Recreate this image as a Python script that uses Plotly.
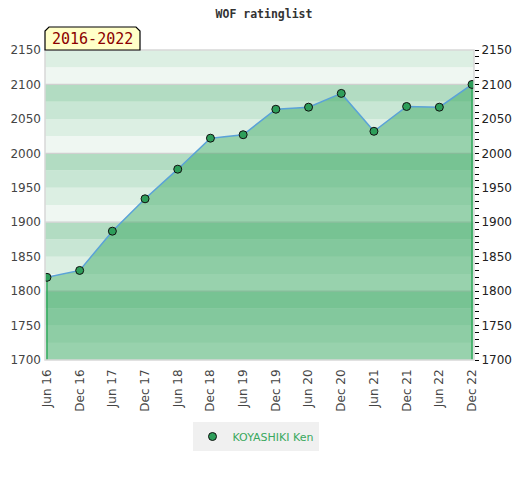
import plotly.graph_objects as go

# ---- data ----
periods = ["Jun 16", "Dec 16", "Jun 17", "Dec 17", "Jun 18", "Dec 18", "Jun 19",
           "Dec 19", "Jun 20", "Dec 20", "Jun 21", "Dec 21", "Jun 22", "Dec 22"]
rating = [1820, 1830, 1887, 1934, 1977, 2022, 2027,
          2064, 2067, 2087, 2032, 2068, 2067, 2100]
player = "KOYASHIKI Ken"
title = "WOF ratinglist"
period_label = "2016-2022"
y_min, y_max = 1700, 2150
yticks = [1700, 1750, 1800, 1850, 1900, 1950, 2000, 2050, 2100, 2150]

x = list(range(len(periods)))

fig = go.Figure()

# area fill
fig.add_trace(go.Scatter(
    x=x, y=rating, mode="lines", fill="tozeroy",
    fillcolor="rgba(50,166,92,0.46)", line=dict(width=0, color="rgba(0,0,0,0)"),
    hoverinfo="skip", showlegend=False))
# edge lines of area
fig.add_trace(go.Scatter(x=[x[0], x[0]], y=[rating[0], y_min], mode="lines",
                         line=dict(color="#2ea85a", width=1.5), showlegend=False, hoverinfo="skip"))
fig.add_trace(go.Scatter(x=[x[-1], x[-1]], y=[rating[-1], y_min], mode="lines",
                         line=dict(color="#2ea85a", width=1.5), showlegend=False, hoverinfo="skip"))
# line
fig.add_trace(go.Scatter(x=x, y=rating, mode="lines",
                         line=dict(color="#5aa2d8", width=1.5), showlegend=False, hoverinfo="skip"))
# markers
fig.add_trace(go.Scatter(x=x, y=rating, mode="markers", name=player,
                         marker=dict(size=8, color="#2e9e5a", line=dict(color="#111", width=1))))
# dummy trace for right axis
fig.add_trace(go.Scatter(x=[x[0]], y=[y_min], yaxis="y2", mode="markers",
                         marker=dict(opacity=0), showlegend=False, hoverinfo="skip"))

# background bands
band_colors = ["#eff7f2", "#dcefe3", "#c8e6d4", "#b2dcc2"]
shapes = []
v = y_min
i = 0
while v < y_max:
    shapes.append(dict(type="rect", xref="paper", yref="y", x0=0, x1=1, y0=v, y1=v + 25,
                       fillcolor=band_colors[i % 4], line=dict(width=0), layer="below"))
    v += 25
    i += 1
for g in range(y_min + 100, y_max, 100):
    shapes.append(dict(type="line", xref="paper", yref="y", x0=0, x1=1, y0=g, y1=g,
                       line=dict(color="#d0d0d0", width=1.2), layer="below"))
# frame
shapes.append(dict(type="rect", xref="paper", yref="paper", x0=0, x1=1, y0=0, y1=1,
                   line=dict(color="#d8d8d8", width=1.5), layer="above"))
# label box with bevelled top corners
bw = 95 / 429
bh = 23 / 310
bx = 4 / 429
by = 4 / 310
shapes.append(dict(type="path", xref="paper", yref="paper",
                   path=f"M 0 1 L 0 {1+bh-by} L {bx} {1+bh} L {bw-bx} {1+bh} L {bw} {1+bh-by} L {bw} 1 Z",
                   fillcolor="#ffffc8", line=dict(color="#000", width=1.2), layer="above"))

fig.update_layout(
    width=512, height=472,
    margin=dict(l=37, r=46, t=42, b=120),
    paper_bgcolor="white", plot_bgcolor="white",
    title=dict(text="<b>" + title + "</b>", x=0.5, xanchor="center", y=0.987, yanchor="middle",
               font=dict(family="DejaVu Sans Mono", size=11.5, color="#333")),
    shapes=shapes,
    showlegend=True,
    legend=dict(orientation="h", x=0.5 - 4 / 429, xanchor="center", y=-0.2, yanchor="top",
                bgcolor="#f0f0f0", font=dict(family="DejaVu Sans", size=11, color="#3aa85e"),
                itemwidth=30),
    annotations=[dict(text=period_label, xref="paper", yref="paper", x=bw / 2, y=1 + bh / 2 - 0.002,
                      xanchor="center", yanchor="middle", showarrow=False,
                      font=dict(family="DejaVu Sans Mono", size=15, color="#8b0000"))],
    xaxis=dict(range=[-0.06, len(periods) - 1 + 0.06], tickmode="array", tickvals=x,
               ticktext=periods, tickangle=-90, showgrid=False, zeroline=False, automargin=False,
               ticks="", ticklabelstandoff=6,
               tickfont=dict(family="DejaVu Sans", size=12, color="#444")),
    yaxis=dict(range=[y_min, y_max], tickmode="array", tickvals=yticks, showgrid=False,
               zeroline=False, ticks="", automargin=False, ticklabelstandoff=3,
               tickfont=dict(family="DejaVu Sans", size=12, color="#444")),
    yaxis2=dict(range=[y_min, y_max], overlaying="y", side="right", tickmode="array",
                tickvals=yticks, showgrid=False, zeroline=False, ticks="outside", ticklen=4,
                tickcolor="#000", tickwidth=1.2, automargin=False,
                minor=dict(dtick=10, ticks="outside", ticklen=4, tickcolor="#000", tickwidth=1.2),
                tickfont=dict(family="DejaVu Sans", size=12, color="#222")),
)

fig.write_html("out.html")
